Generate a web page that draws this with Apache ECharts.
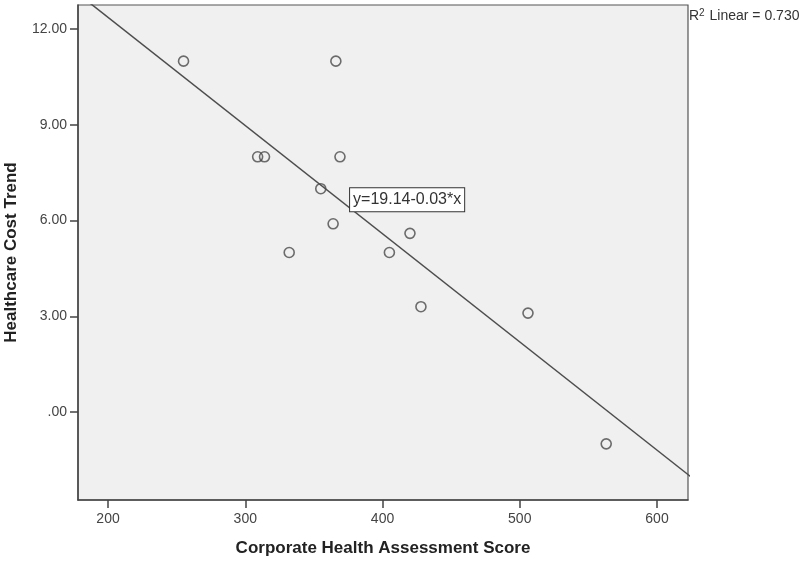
<!DOCTYPE html>
<html>
<head>
<meta charset="utf-8">
<script src="https://cdn.jsdelivr.net/npm/echarts@6/dist/echarts.min.js"></script>
<style>
  html, body { margin: 0; padding: 0; background: #fff; }
  #chart { width: 800px; height: 563px; }
</style>
</head>
<body>
<div id="chart"></div>
<script type="text/javascript">
	// values
	var scoreX = [255, 309, 314, 366, 369, 355, 364, 332, 405, 420, 428, 506, 563];
	var costY  = [11.0, 8.0, 8.0, 11.0, 8.0, 7.0, 5.9, 5.0, 5.0, 5.6, 3.3, 3.1, -1.0];
	var xTicks = [200, 300, 400, 500, 600];
	var yTicks = [0, 3, 6, 9, 12];
	var xRange = [178.1, 622.6];
	var yRange = [-2.76, 12.76];
	var fitText = 'y=19.14-0.03*x';
	var r2Text = '0.730';
	var labelAtX = 376;

	// least squares fit of the points
	var n = scoreX.length, mx = 0, my = 0;
	for (var i = 0; i < n; i++) { mx += scoreX[i]; my += costY[i]; }
	mx /= n; my /= n;
	var sxy = 0, sxx = 0;
	for (var i = 0; i < n; i++) {
		sxy += (scoreX[i] - mx) * (costY[i] - my);
		sxx += (scoreX[i] - mx) * (scoreX[i] - mx);
	}
	var slope = sxy / sxx;
	var icpt = my - slope * mx;
	var fit = function (x) { return icpt + slope * x; };

	var points = [];
	for (var i = 0; i < n; i++) points.push([scoreX[i], costY[i]]);

	var font = 'Arial, "Liberation Sans", sans-serif';

	var option = {
		animation: false,
		backgroundColor: '#fff',
		grid: {
			left: 78, right: 112, top: 5, bottom: 63,
			containLabel: false, outerBoundsMode: 'none',
			show: true, backgroundColor: '#f0f0f0',
			borderColor: '#555', borderWidth: 1.2
		},
		xAxis: {
			type: 'value', min: xRange[0], max: xRange[1],
			name: 'Corporate Health Assessment Score',
			nameLocation: 'middle', nameGap: 40,
			nameTextStyle: { fontFamily: font, fontSize: 17, fontWeight: 'bold', color: '#222' },
			axisLine: { onZero: false, lineStyle: { color: '#444', width: 1.5 } },
			axisTick: { show: true, inside: false, length: 8, customValues: xTicks, lineStyle: { color: '#444', width: 1.5 } },
			axisLabel: { customValues: xTicks, margin: 12, fontFamily: font, fontSize: 14, color: '#444' },
			splitLine: { show: false }
		},
		yAxis: {
			type: 'value', min: yRange[0], max: yRange[1],
			name: 'Healthcare Cost Trend',
			nameLocation: 'middle', nameGap: 58,
			nameTextStyle: { fontFamily: font, fontSize: 17, fontWeight: 'bold', color: '#222' },
			axisLine: { onZero: false, lineStyle: { color: '#444', width: 1.5 } },
			axisTick: { show: true, inside: false, length: 8, customValues: yTicks, lineStyle: { color: '#444', width: 1.5 } },
			axisLabel: {
				customValues: yTicks, margin: 11, fontFamily: font, fontSize: 14, color: '#444',
				formatter: function (v) { return v === 0 ? '.00' : v.toFixed(2); }
			},
			splitLine: { show: false }
		},
		series: [
			{
				type: 'line',
				data: [[xRange[0] - 10, fit(xRange[0] - 10)], [xRange[1] + 10, fit(xRange[1] + 10)]],
				showSymbol: false, clip: true, silent: true, z: 2,
				lineStyle: { color: '#4d4d4d', width: 1.5 },
				markPoint: {
					symbol: 'circle', symbolSize: 1,
					itemStyle: { color: 'rgba(0,0,0,0)' },
					label: {
						show: true, position: 'right', distance: 0, offset: [0, -8],
						formatter: fitText,
						fontFamily: font, fontSize: 16, color: '#333',
						backgroundColor: '#fff', borderColor: '#333', borderWidth: 1,
						padding: [4, 3, 3, 3]
					},
					data: [{ coord: [labelAtX, fit(labelAtX)] }]
				}
			},
			{
				type: 'scatter',
				data: points,
				symbol: 'circle', symbolSize: 10, z: 3,
				itemStyle: { color: 'rgba(0,0,0,0)', borderColor: '#4a4a4a', borderWidth: 1.6 }
			}
		],
		graphic: [
			{
				type: 'text', left: 689, top: 8,
				style: {
					text: 'R{sup|2} Linear = ' + r2Text,
					fontFamily: font, fontSize: 14, fill: '#333',
					rich: { sup: { fontFamily: font, fontSize: 10, fill: '#333', padding: [0, 1, 7, 0] } }
				}
			}
		]
	};

	var myChart = echarts.init(document.getElementById('chart'));
	myChart.setOption(option);
</script>
</body>
</html>
